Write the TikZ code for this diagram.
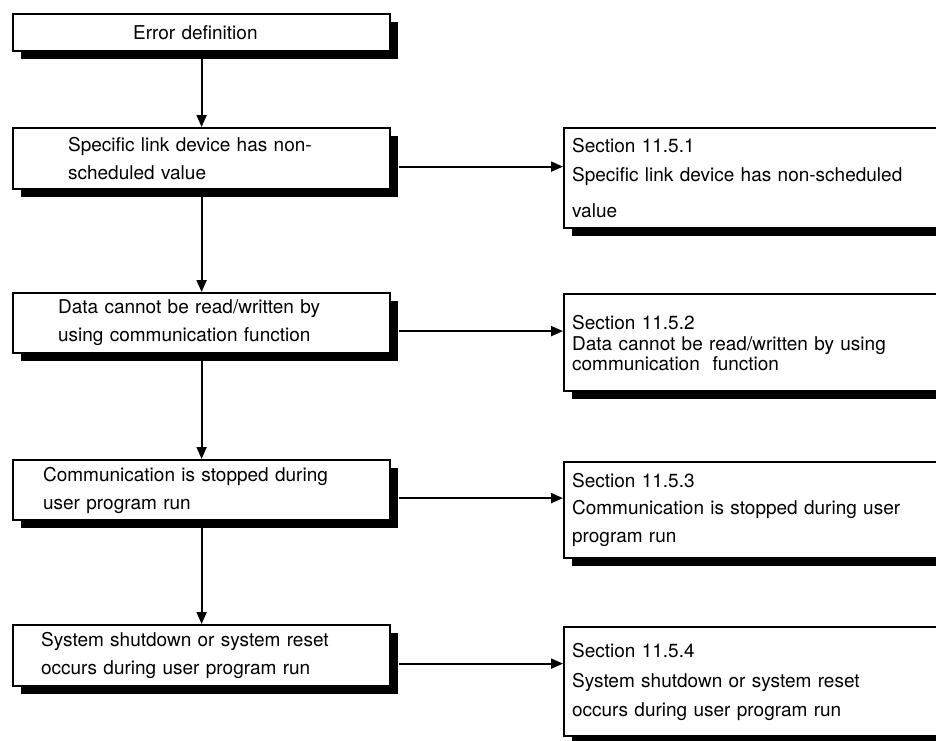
\documentclass[tikz,border=0pt]{standalone}
\usepackage{fontspec}
\setmainfont{TeX Gyre Heros}
\usetikzlibrary{arrows.meta,shadows}
\begin{document}
\begin{tikzpicture}[x=1pt,y=-1pt,
  box/.style={draw=black, line width=2.2pt, fill=white, rectangle, inner ysep=2pt,
    general shadow={fill=black, shadow xshift=8pt, shadow yshift=-8pt},
    font=\fontsize{19}{28}\selectfont, align=left, anchor=north west},
  lbox/.style={box, text width=377pt, inner xsep=0pt, minimum width=377pt},
  rbox/.style={box, text width=366pt, inner xsep=8pt, minimum width=382pt},
  link/.style={line width=1.9pt, -{Triangle[length=12pt,width=10pt]}}]
\useasboundingbox (0,0) rectangle (936,740);
\clip (0,0) rectangle (936,740);

\node[lbox, minimum height=37pt] (L1) at (12,13) {\hspace*{120pt}Error definition};
\node[lbox, minimum height=61pt] (L2) at (12,127) {\hspace*{55pt}Specific link device has non-\\\hspace*{55pt}scheduled value};
\node[lbox, minimum height=60pt] (L3) at (12,292) {\hspace*{45pt}Data cannot be read/written by\\\hspace*{45pt}using communication function};
\node[lbox, minimum height=60pt] (L4) at (12,459) {\hspace*{30pt}Communication is stopped during\\\hspace*{30pt}user program run};
\node[lbox, minimum height=61pt] (L5) at (12,624) {\hspace*{28pt}System shutdown or system reset\\\hspace*{28pt}occurs during user program run};

\node[rbox, minimum height=100pt] (R1) at (563,127) {Section 11.5.1\\[1pt]Specific link device has non-scheduled\\[8pt]value};
\node[rbox, minimum height=97pt] (R2) at (563,293) {Section 11.5.2\\[-7pt]Data cannot be read/written by using\\[-8pt]communication\ \ function};
\node[rbox, minimum height=96pt] (R3) at (563,461) {Section 11.5.3\\[-1pt]Communication is stopped during user\\program run};
\node[rbox, minimum height=109pt] (R4) at (563,626) {Section 11.5.4\\[2pt]System shutdown or system reset\\[1pt]occurs during user program run};

\draw[link] (L1.south) -- (L2.north);
\draw[link] (L2.south) -- (L3.north);
\draw[link] (L3.south) -- (L4.north);
\draw[link] (L4.south) -- (L5.north);

\draw[link] ([xshift=8pt,yshift=-8pt]L2.east) -- ([yshift=-8pt]L2.east -| R1.west);
\draw[link] ([xshift=8pt,yshift=-8pt]L3.east) -- ([yshift=-8pt]L3.east -| R2.west);
\draw[link] ([xshift=8pt,yshift=-8pt]L4.east) -- ([yshift=-8pt]L4.east -| R3.west);
\draw[link] ([xshift=8pt,yshift=-8pt]L5.east) -- ([yshift=-8pt]L5.east -| R4.west);
\end{tikzpicture}
\end{document}
